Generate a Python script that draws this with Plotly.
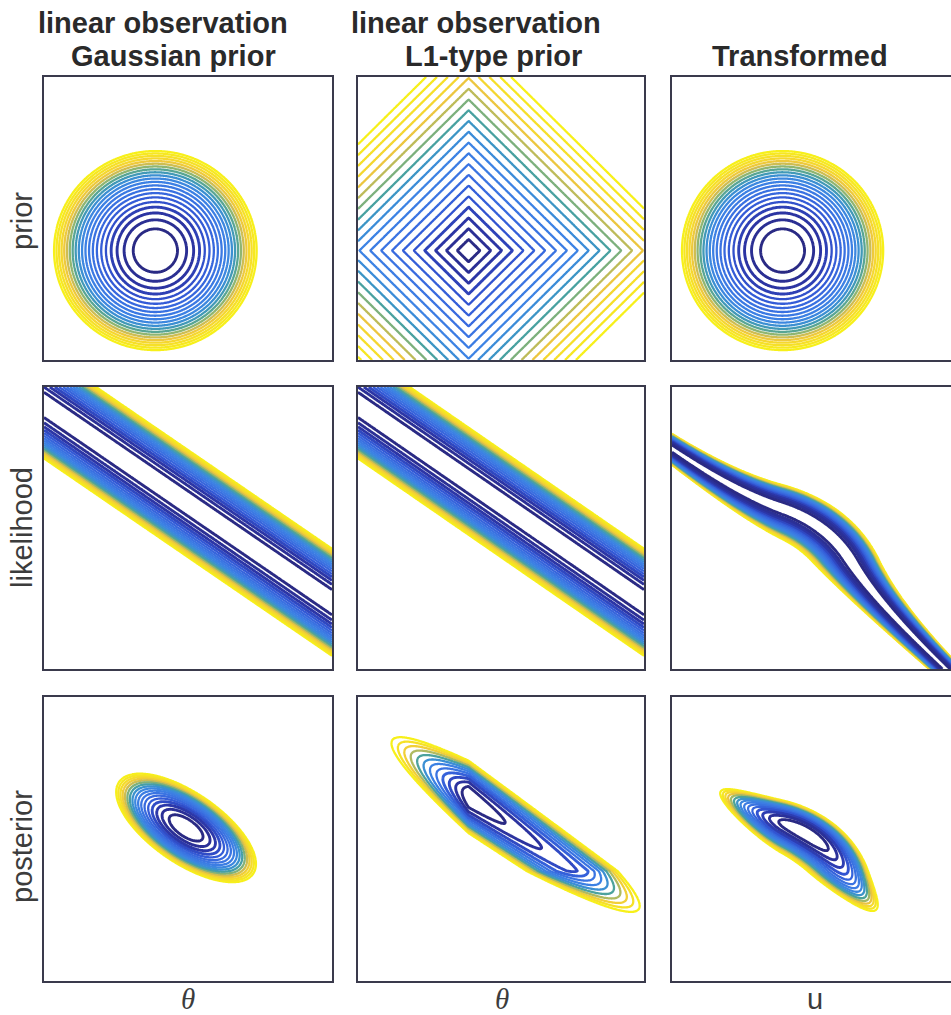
import math
import numpy as np
import plotly.graph_objects as go

# ---- model parameters ----------------------------------------------------
prior_mean = [-0.68, -0.68]      # centre of both priors (theta and u space)
prior_sd = 1.0                   # Gaussian prior standard deviation
l1_rate = 0.31                   # rate of the L1-type (Laplace) prior
u_map_rate = 0.78                # Laplace rate used by the u -> theta map
obs_vector = [0.7, 1.0]          # linear observation direction a (a . theta = y)
obs_point = [0.0, 0.52]          # a point lying on the observation line
obs_noise = 0.48                 # observation noise standard deviation

# ---- labels --------------------------------------------------------------
col_title_top = ["linear observation", "linear observation", ""]
col_title_bottom = ["Gaussian prior", "L1-type prior", "Transformed"]
row_titles = ["prior", "likelihood", "posterior"]
x_titles = ["θ", "θ", "u"]

# ---- contour levels: spacing in log density and number of levels ---------
level_step = [[0.106, 0.0707, 0.106],
              [0.105, 0.105, 0.105],
              [0.085, 0.071, 0.120]]
level_count = [[21, 20, 21],
               [18, 18, 18],
               [17, 12, 15]]

# ---- grid ----------------------------------------------------------------
g = np.linspace(-3.0, 3.0, 321)
X, Y = np.meshgrid(g, g)
m = np.array(prior_mean)
a = np.array(obs_vector) / np.hypot(*obs_vector)
b = float(a @ np.array(obs_point))

erfc = np.vectorize(math.erfc)


def log_gauss_prior(x, y):
    return -((x - m[0]) ** 2 + (y - m[1]) ** 2) / (2 * prior_sd ** 2)


def log_l1_prior(x, y):
    return -l1_rate * (np.abs(x - m[0]) + np.abs(y - m[1]))


def log_lik(x, y):
    return -(a[0] * x + a[1] * y - b) ** 2 / (2 * obs_noise ** 2)


def to_theta(u, centre):
    # maps a standard normal coordinate onto a Laplace coordinate
    z = u - centre
    return centre - np.sign(z) * np.log(erfc(np.abs(z) / np.sqrt(2))) / u_map_rate


TX, TY = np.meshgrid(to_theta(g, m[0]), to_theta(g, m[1]))

fields = [
    [log_gauss_prior(X, Y), log_l1_prior(X, Y), log_gauss_prior(X, Y)],
    [log_lik(X, Y), log_lik(X, Y), log_lik(TX, TY)],
    [log_gauss_prior(X, Y) + log_lik(X, Y),
     log_l1_prior(X, Y) + log_lik(X, Y),
     log_gauss_prior(X, Y) + log_lik(TX, TY)],
]

# ---- colours along the level index (0 = innermost, 1 = outermost) --------
level_palette = [
    (0.00, "#2a2a84"), (0.12, "#2c36a8"), (0.22, "#3256d4"),
    (0.35, "#3a72e2"), (0.48, "#3d84e4"), (0.57, "#3a93cc"),
    (0.64, "#4aa29a"), (0.71, "#9ab86a"), (0.77, "#e8bf45"),
    (0.84, "#f5d630"), (1.00, "#f7f01a"),
]
pal_t = np.array([p[0] for p in level_palette])
pal_rgb = np.array([[int(p[1][i:i + 2], 16) for i in (1, 3, 5)]
                    for p in level_palette], dtype=float)


def palette_at(t):
    rgb = [np.interp(t, pal_t, pal_rgb[:, i]) for i in range(3)]
    return "rgb(%d,%d,%d)" % tuple(int(round(v)) for v in rgb)


def level_colorscale(k_lo, k_hi, n):
    # plotly spreads a 'lines' colorscale over the trace's own levels, so
    # each trace gets the slice for levels k_hi (outer) .. k_lo (inner)
    out = []
    for f in np.linspace(0, 1, 25):
        k = k_hi + f * (k_lo - k_hi)
        out.append([float(f), palette_at((k - 1) / max(n - 1, 1))])
    return out


# ---- panel placement -----------------------------------------------------
W, H = 951, 1015
x_dom = [[44 / W, 332 / W], [358 / W, 644 / W], [672 / W, 1.0]]
y_dom = [[1 - 360 / H, 1 - 77 / H], [1 - 669 / H, 1 - 387 / H],
         [1 - 981 / H, 1 - 697 / H]]
x_rng = [[-3, 3], [-3, 3], [-3, -3 + 6 * 279 / 286]]
frame = "#3a3a4c"

fig = go.Figure()
layout = {}
for r in range(3):
    for c in range(3):
        k = r * 3 + c + 1
        xa, ya = ("x%d" % k, "y%d" % k)
        Z = fields[r][c]
        Z = (Z - Z.max()).astype(np.float32)
        step, n = level_step[r][c], level_count[r][c]
        inner = 4
        for k_lo, k_hi, w in [(inner + 1, n, 2.3), (1, inner, 2.9)]:
            fig.add_trace(go.Contour(
                x=g, y=g, z=Z, xaxis=xa, yaxis=ya,
                contours=dict(coloring="lines", start=-step * (k_hi + 0.001),
                              end=-step * (k_lo - 0.001), size=step),
                line=dict(width=w, smoothing=1.0),
                colorscale=level_colorscale(k_lo, k_hi, n),
                showscale=False, hoverinfo="skip"))
        layout["xaxis%d" % k] = dict(
            domain=x_dom[c], range=x_rng[c], anchor=ya,
            showticklabels=False, ticks="", showgrid=False, zeroline=False,
            showline=True, mirror=True, linecolor=frame, linewidth=2)
        layout["yaxis%d" % k] = dict(
            domain=y_dom[r], range=[-3, 3], anchor=xa,
            showticklabels=False, ticks="", showgrid=False, zeroline=False,
            showline=True, mirror=(c < 2), linecolor=frame, linewidth=2)

ann = []
title_font = dict(family="Liberation Sans", size=29, color="#2a2a2a")
top_x = [163, 476, 800]
bottom_x = [173, 493, 800]
for c in range(3):
    if col_title_top[c]:
        ann.append(dict(text="<b>%s</b>" % col_title_top[c], x=top_x[c] / W,
                        y=1 - 23 / H, xref="paper", yref="paper",
                        xanchor="center", yanchor="middle", showarrow=False,
                        font=title_font))
    ann.append(dict(text="<b>%s</b>" % col_title_bottom[c], x=bottom_x[c] / W,
                    y=1 - 56 / H, xref="paper", yref="paper",
                    xanchor="center", yanchor="middle", showarrow=False,
                    font=title_font))

row_y = [221, 528, 847]
for r in range(3):
    ann.append(dict(text=row_titles[r], x=22 / W, y=1 - row_y[r] / H,
                    xref="paper", yref="paper", xanchor="center",
                    yanchor="middle", textangle=-90, showarrow=False,
                    font=dict(family="Liberation Sans", size=29,
                              color="#3c3c3c")))

xlab_x = [188, 502, 815]
for c in range(3):
    if x_titles[c] == "θ":
        f = dict(family="Liberation Serif", size=29, color="#3c3c3c")
        txt = "<i>θ</i>"
    else:
        f = dict(family="Liberation Sans", size=29, color="#3c3c3c")
        txt = x_titles[c]
    ann.append(dict(text=txt, x=xlab_x[c] / W, y=1 - 999 / H, xref="paper",
                    yref="paper", xanchor="center", yanchor="middle",
                    showarrow=False, font=f))

fig.update_layout(width=W, height=H, margin=dict(l=0, r=0, t=0, b=0),
                  paper_bgcolor="white", plot_bgcolor="white",
                  showlegend=False, annotations=ann, **layout)
fig.write_html("out.html")
